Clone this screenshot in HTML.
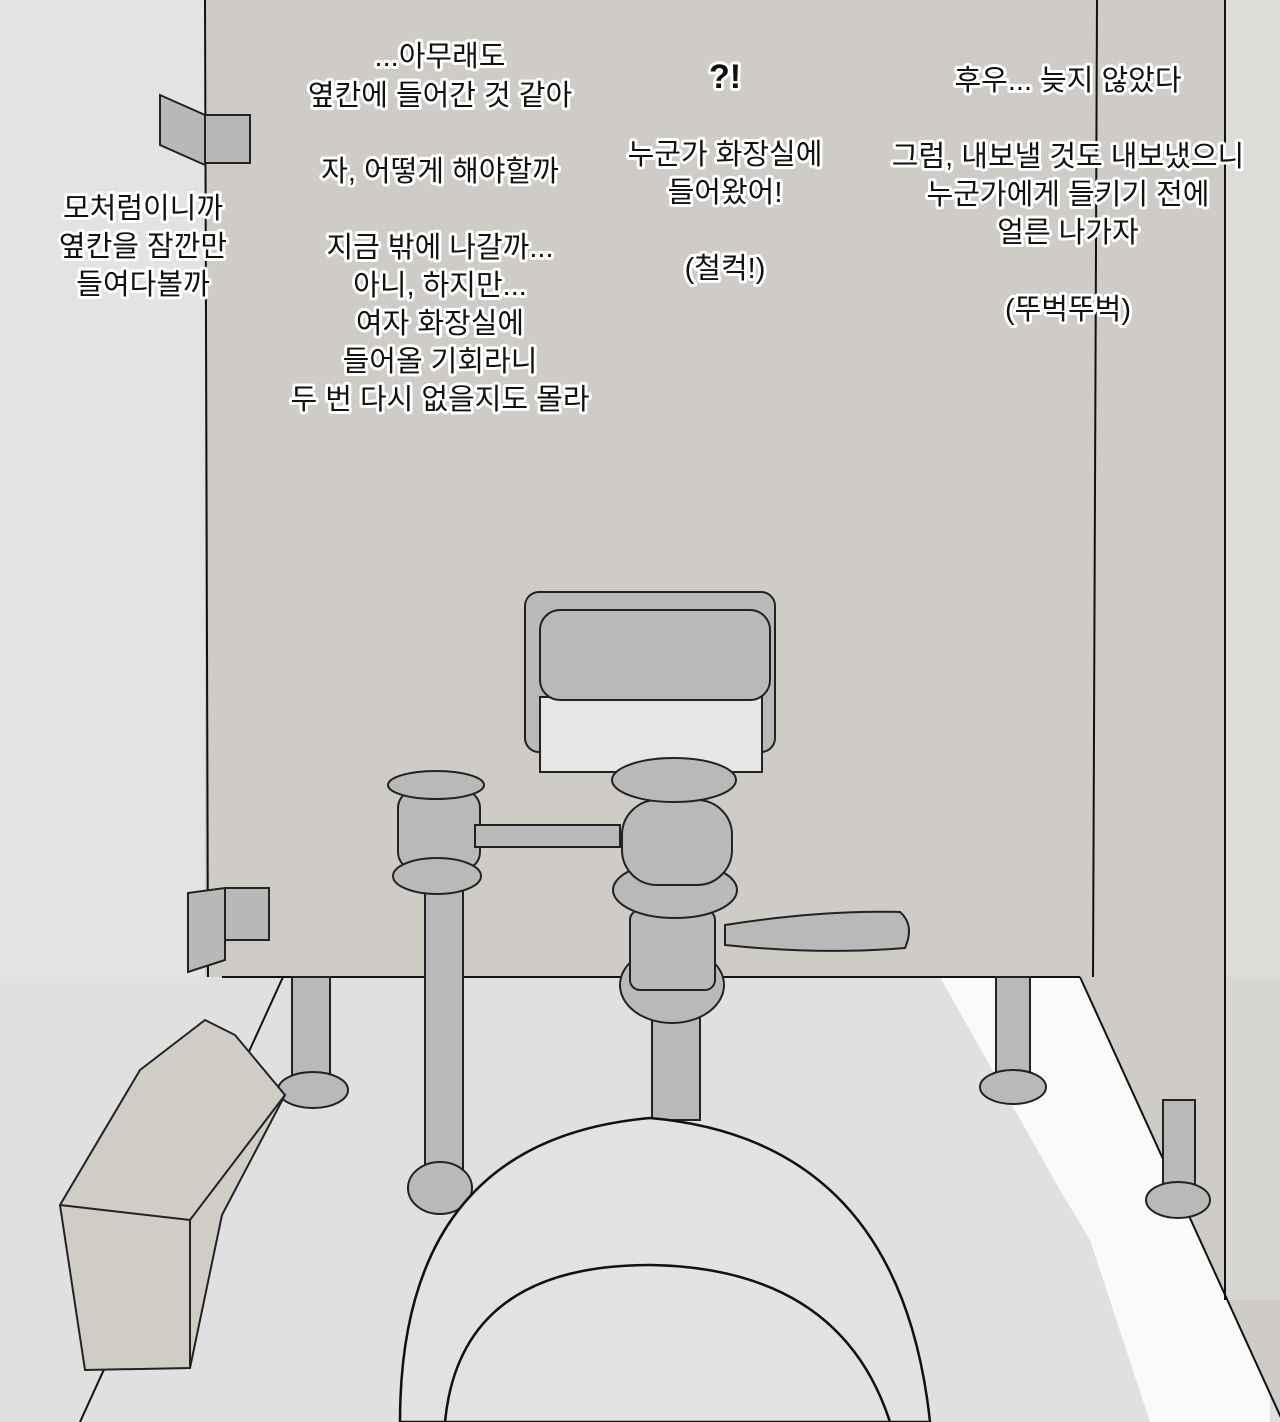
<!DOCTYPE html>
<html><head><meta charset="utf-8"><style>
html,body{margin:0;padding:0;}
body{width:1280px;height:1422px;overflow:hidden;background:#e4e4e4;}
svg{display:block}
text{font-family:"Liberation Sans","Noto Sans CJK KR",sans-serif;font-size:29px;fill:#111;stroke:#fff;stroke-width:6px;paint-order:stroke;stroke-linejoin:round;text-anchor:middle;}
</style></head><body>
<svg width="1280" height="1422" viewBox="0 0 1280 1422" xmlns="http://www.w3.org/2000/svg">
<rect x="0" y="0" width="1280" height="1422" fill="#e3e3e3"/>
<rect x="1225" y="0" width="55" height="1422" fill="#dddcd8"/>
<rect x="205" y="0" width="1020" height="977" fill="#cfccc7"/>
<polygon points="0,977 1080,977 1283,1422 0,1422" fill="#e0e0e0"/>
<polygon points="940,977 1080,977 1270,1393 1270,1422 1150,1422 1090,1240 1060,1190" fill="#fafafa"/>
<polygon points="1080,977 1283,1422 1280,1422 1280,977" fill="#cfccc7"/>
<polygon points="1225,977 1280,977 1280,1300 1225,1300" fill="#d8d6d2"/>
<polygon points="1080,977 1283,1422 1283,977" fill="none"/>
<line x1="205" y1="0" x2="208" y2="977" stroke="#111" stroke-width="2"/>
<line x1="222" y1="977" x2="1080" y2="977" stroke="#111" stroke-width="2"/>
<line x1="1097" y1="0" x2="1093" y2="977" stroke="#111" stroke-width="2"/>
<line x1="1225" y1="0" x2="1225" y2="1300" stroke="#111" stroke-width="2"/>
<line x1="1080" y1="977" x2="1283" y2="1422" stroke="#111" stroke-width="2"/>
<line x1="283" y1="977" x2="80" y2="1422" stroke="#111" stroke-width="2"/>
<g stroke="#222" stroke-width="2" fill="#b8b8b8">
<polygon points="160,95 205,115 205,165 160,145"/>
<rect x="205" y="115" width="45" height="48"/>
<polygon points="188,893 225,888 225,960 188,972"/>
<rect x="225" y="888" width="44" height="52"/>
</g>
<g stroke="#222" stroke-width="2" fill="#b9b9b9">
<rect x="292" y="977" width="38" height="110"/>
<ellipse cx="313" cy="1090" rx="35" ry="18"/>
<rect x="996" y="977" width="34" height="110"/>
<ellipse cx="1013" cy="1087" rx="33" ry="17"/>
<rect x="1163" y="1100" width="32" height="100"/>
<ellipse cx="1178" cy="1200" rx="32" ry="18"/>
<rect x="425" y="880" width="38" height="330"/>
<ellipse cx="440" cy="1188" rx="32" ry="26"/>
<rect x="398" y="790" width="82" height="80" rx="18"/>
<ellipse cx="437" cy="876" rx="44" ry="18"/>
<ellipse cx="436" cy="785" rx="48" ry="14"/>
<rect x="475" y="825" width="145" height="22"/>
<rect x="525" y="592" width="250" height="160" rx="14"/>
<rect x="540" y="697" width="222" height="75" fill="#e6e6e6"/>
<rect x="540" y="610" width="230" height="90" rx="20"/>
<rect x="652" y="1000" width="48" height="120"/>
<ellipse cx="672" cy="985" rx="52" ry="38"/>
<rect x="630" y="910" width="85" height="80" rx="10"/>
<ellipse cx="675" cy="890" rx="62" ry="28"/>
<rect x="622" y="800" width="110" height="85" rx="35"/>
<ellipse cx="674" cy="780" rx="62" ry="22"/>
<path d="M725 925 Q820 910 900 912 Q915 925 905 948 Q820 955 725 945 Z"/>
</g>
<g stroke="#222" stroke-width="2" fill="#cfcdc5">
<path d="M60 1205 L85 1370 L190 1368 L222 1215 L285 1095 L235 1035 L205 1020 L140 1070 Z"/>
<path d="M60 1205 L190 1220 L285 1095" fill="none"/>
<path d="M190 1220 L190 1368" fill="none"/>
</g>
<path d="M400 1422 Q400 1140 650 1118 Q900 1140 930 1422 Z" fill="#e2e2e2" stroke="#111" stroke-width="2.5"/>
<path d="M445 1422 Q460 1265 650 1265 Q840 1268 890 1422" fill="none" stroke="#111" stroke-width="2.5"/>
<text x="143" y="218">모처럼이니까</text>
<text x="143" y="256">옆칸을 잠깐만</text>
<text x="143" y="294">들여다볼까</text>
<text x="440" y="66">...아무래도</text>
<text x="440" y="105">옆칸에 들어간 것 같아</text>
<text x="440" y="181">자, 어떻게 해야할까</text>
<text x="440" y="257">지금 밖에 나갈까...</text>
<text x="440" y="295">아니, 하지만...</text>
<text x="440" y="333">여자 화장실에</text>
<text x="440" y="371">들어올 기회라니</text>
<text x="440" y="409">두 번 다시 없을지도 몰라</text>
<text x="725" y="88" style="font-size:34px;font-weight:bold">?!</text>
<text x="725" y="164">누군가 화장실에</text>
<text x="725" y="202">들어왔어!</text>
<text x="725" y="278">(철컥!)</text>
<text x="1068" y="90">후우... 늦지 않았다</text>
<text x="1068" y="166">그럼, 내보낼 것도 내보냈으니</text>
<text x="1068" y="204">누군가에게 들키기 전에</text>
<text x="1068" y="242">얼른 나가자</text>
<text x="1068" y="319">(뚜벅뚜벅)</text>
</svg>
</body></html>
